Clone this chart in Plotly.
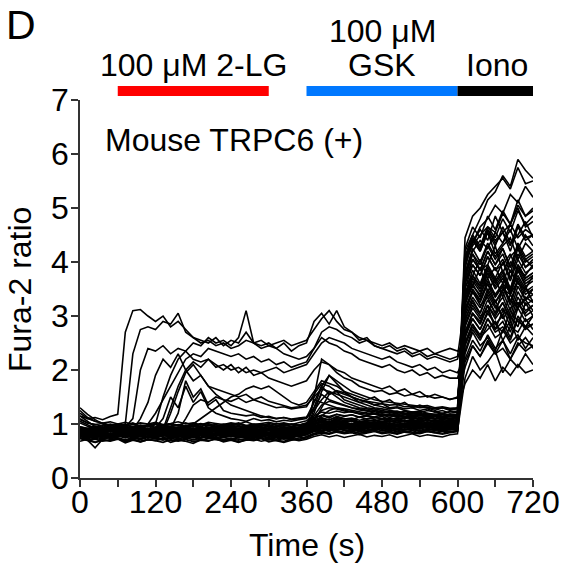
import plotly.graph_objects as go

# ---------------- data ----------------
TIME_S = list(range(0, 721, 12))  # sampling grid, 61 points

X_TICKS = [0, 60, 120, 180, 240, 300, 360, 420, 480, 540, 600, 660, 720]
X_TICK_LABELS = ["0", "", "120", "", "240", "", "360", "", "480", "", "600", "", "720"]
Y_TICKS = [0, 1, 2, 3, 4, 5, 6, 7]

PERIOD_NAMES = ["2-LG", "GSK", "Iono"]
PERIOD_START = [60, 360, 600]
PERIOD_END = [300, 600, 720]
PERIOD_COLORS = ["#ff0000", "#0078ff", "#000000"]

B1 = [0.82,0.79,0.81,0.77,0.80,0.83,0.78,0.80,0.76,0.81,
      0.79,0.82,0.78,0.80,0.77,0.81,0.79,0.83,0.80,0.78,
      0.81,0.79,0.82,0.80,0.84,0.81,0.79,0.82,0.80,0.83,
      0.84,0.89,0.92,0.90,0.94,0.91,0.93,0.90,0.92,0.95,
      0.91,0.93,0.90,0.94,0.92,0.91,0.95,0.92,0.90,0.93,
      0.95,2.60,3.05,2.85,3.20,2.75,3.10,3.00,2.80,3.25,3.00]
B2 = [0.74,0.70,0.72,0.68,0.71,0.73,0.69,0.72,0.67,0.71,
      0.70,0.73,0.69,0.72,0.68,0.71,0.70,0.74,0.71,0.69,
      0.72,0.70,0.73,0.71,0.75,0.72,0.70,0.73,0.71,0.74,
      0.76,0.82,0.85,0.83,0.87,0.84,0.86,0.83,0.85,0.88,
      0.84,0.86,0.83,0.87,0.85,0.84,0.88,0.85,0.83,0.86,
      0.88,1.85,2.25,2.00,2.15,2.35,1.95,2.20,2.05,2.30,2.10]
B3 = [1.15,1.05,0.95,0.92,0.88,0.91,0.93,0.89,0.92,0.90,
      0.94,0.90,0.92,0.88,0.93,0.91,0.89,0.92,0.95,0.90,
      0.92,0.89,0.93,0.91,0.88,0.92,0.90,0.94,0.91,0.93,
      0.95,1.00,1.03,1.01,1.05,1.02,1.00,1.04,1.01,1.03,
      1.00,1.05,1.02,1.00,1.04,1.01,1.03,1.00,1.02,1.05,
      1.06,3.40,3.55,3.90,3.45,3.70,3.35,3.85,3.60,3.50,3.75]
B4 = [0.80,0.76,0.79,0.82,0.75,0.78,0.80,0.77,0.81,0.74,
      0.78,0.80,0.76,0.79,0.77,0.82,0.78,0.75,0.79,0.81,
      0.77,0.80,0.78,0.76,0.81,0.79,0.82,0.78,0.80,0.77,
      0.82,0.90,0.94,0.92,0.96,0.93,0.97,0.94,0.95,0.92,
      0.96,0.94,0.97,0.93,0.95,0.98,0.94,0.96,0.93,0.97,
      0.98,3.70,4.15,3.85,3.95,4.30,3.80,4.10,4.25,3.90,4.05]
B5 = [0.88,0.85,0.89,0.84,0.87,0.86,0.90,0.84,0.88,0.86,
      0.85,0.89,0.86,0.88,0.84,0.87,0.90,0.86,0.88,0.85,
      0.89,0.86,0.87,0.90,0.85,0.88,0.86,0.89,0.87,0.90,
      0.92,0.97,1.00,0.98,1.02,0.99,1.01,0.97,1.00,1.03,
      0.99,1.02,0.98,1.01,0.99,1.03,1.00,0.98,1.02,1.00,
      1.03,4.10,4.35,4.60,4.40,4.85,4.55,4.70,5.00,4.65,4.75]
B6 = [1.25,1.12,1.05,1.02,0.98,1.00,0.96,0.99,0.95,0.97,
      0.94,0.98,0.96,0.93,0.97,0.95,0.99,0.94,0.96,0.98,
      0.95,0.97,0.94,0.98,0.96,0.99,0.95,0.97,0.96,0.98,
      1.00,1.06,1.10,1.08,1.12,1.09,1.11,1.07,1.10,1.13,
      1.09,1.11,1.08,1.12,1.10,1.09,1.13,1.10,1.08,1.11,
      1.12,4.20,4.50,4.80,5.15,5.30,5.60,5.40,5.90,5.70,5.55]
B7 = [0.77,0.73,0.76,0.72,0.78,0.74,0.71,0.75,0.73,0.77,
      0.74,0.72,0.76,0.73,0.75,0.71,0.74,0.77,0.73,0.75,
      0.72,0.76,0.74,0.73,0.77,0.75,0.72,0.76,0.74,0.78,
      0.80,0.86,0.89,0.87,0.91,0.88,0.90,0.86,0.89,0.92,
      0.88,0.90,0.87,0.91,0.89,0.88,0.92,0.89,0.87,0.90,
      0.92,3.10,3.45,3.20,3.35,3.05,3.50,3.30,3.15,3.55,3.25]
B8 = [0.80,0.70,0.56,0.72,0.78,0.82,0.84,0.81,0.85,0.83,
      0.80,0.84,0.82,0.86,0.81,0.83,0.85,0.80,0.84,0.82,
      0.86,0.83,0.81,0.85,0.83,0.80,0.84,0.86,0.82,0.85,
      0.87,0.94,0.97,0.95,0.99,0.96,0.98,0.94,0.97,1.00,
      0.96,0.98,0.95,0.99,0.97,0.96,1.00,0.97,0.95,0.98,
      1.00,2.30,2.70,2.45,2.60,2.35,2.75,2.50,2.65,2.40,2.60]
B9 = [1.05,0.98,0.92,0.90,0.87,0.89,0.86,0.90,0.88,0.91,
      0.87,0.89,0.92,0.88,0.90,0.86,0.89,0.91,0.87,0.90,
      0.88,0.92,0.89,0.87,0.91,0.88,0.90,0.87,0.92,0.89,
      0.93,1.00,1.05,1.03,1.07,1.04,1.06,1.02,1.05,1.08,
      1.04,1.06,1.03,1.07,1.05,1.04,1.08,1.05,1.03,1.06,
      1.08,3.55,3.75,4.05,3.70,3.90,3.60,4.00,3.85,3.75,3.95]
B10 = [0.78,0.82,0.79,0.84,0.80,0.77,0.81,0.83,0.79,0.82,
       0.80,0.78,0.83,0.79,0.81,0.84,0.80,0.78,0.82,0.79,
       0.83,0.80,0.78,0.82,0.80,0.84,0.81,0.79,0.83,0.81,
       0.85,0.91,0.94,0.92,0.96,0.93,0.95,0.91,0.94,0.97,
       0.93,0.95,0.92,0.96,0.94,0.93,0.97,0.94,0.92,0.95,
       0.97,3.90,4.40,4.20,4.55,4.15,4.35,4.60,4.25,4.50,4.30]
B11 = [0.95,0.91,0.94,0.90,0.93,0.92,0.95,0.91,0.94,0.92,
       0.90,0.94,0.91,0.93,0.95,0.91,0.93,0.90,0.94,0.92,
       0.95,0.92,0.94,0.91,0.93,0.96,0.92,0.94,0.91,0.95,
       0.98,1.10,1.25,1.30,1.28,1.24,1.22,1.20,1.18,1.20,
       1.16,1.18,1.15,1.17,1.14,1.16,1.13,1.15,1.12,1.14,
       1.15,2.65,2.95,2.75,3.05,2.85,2.70,3.10,2.90,2.80,3.00]
B12 = [0.79,0.75,0.78,0.74,0.76,0.80,0.75,0.77,0.73,0.78,
       0.76,0.79,0.75,0.77,0.74,0.78,0.76,0.80,0.75,0.77,
       0.79,0.76,0.74,0.78,0.76,0.79,0.75,0.78,0.76,0.80,
       0.82,0.89,0.92,0.90,0.94,0.91,0.93,0.89,0.92,0.95,
       0.91,0.93,0.90,0.94,0.92,0.91,0.95,0.92,0.90,0.93,
       0.95,3.25,3.55,3.40,3.70,3.35,3.60,3.45,3.75,3.50,3.40]
B13 = [1.10,1.02,0.99,0.96,1.00,0.97,0.99,0.95,0.98,0.96,
       1.00,0.97,0.95,0.99,0.96,0.98,1.01,0.97,0.99,0.96,
       0.98,1.00,0.96,0.99,0.97,1.01,0.98,0.96,1.00,0.98,
       1.02,1.10,1.16,1.14,1.18,1.15,1.17,1.13,1.16,1.19,
       1.15,1.17,1.14,1.18,1.16,1.15,1.19,1.16,1.14,1.17,
       1.18,4.10,4.35,4.65,4.80,5.05,4.90,5.25,5.10,5.40,5.20]
B14 = [0.68,0.72,0.66,0.70,0.69,0.73,0.67,0.71,0.68,0.72,
       0.69,0.66,0.71,0.68,0.72,0.67,0.70,0.68,0.73,0.69,
       0.71,0.67,0.70,0.72,0.68,0.71,0.69,0.66,0.70,0.72,
       0.74,0.80,0.83,0.81,0.85,0.82,0.84,0.80,0.83,0.86,
       0.82,0.84,0.81,0.85,0.83,0.82,0.86,0.83,0.81,0.84,
       0.86,2.15,2.45,2.25,2.55,2.30,2.40,2.20,2.50,2.35,2.45]
B15 = [0.87,0.83,0.86,0.82,0.88,0.84,0.86,0.83,0.87,0.85,
       0.82,0.86,0.84,0.88,0.83,0.85,0.87,0.84,0.86,0.83,
       0.87,0.84,0.86,0.85,0.88,0.83,0.86,0.84,0.87,0.85,
       0.88,0.96,1.00,0.98,1.02,0.99,1.01,0.97,1.00,1.03,
       0.99,1.01,0.98,1.02,1.00,0.99,1.03,1.00,0.98,1.01,
       1.03,2.85,3.20,3.00,3.10,3.30,2.95,3.15,3.25,3.05,3.20]
B16 = [0.92,0.88,0.91,0.87,0.90,0.93,0.88,0.91,0.89,0.92,
       0.88,0.91,0.93,0.89,0.90,0.87,0.92,0.89,0.91,0.88,
       0.92,0.90,0.88,0.93,0.89,0.91,0.88,0.92,0.90,0.93,
       0.96,1.15,1.35,1.42,1.38,1.33,1.30,1.26,1.24,1.20,
       1.18,1.16,1.19,1.14,1.15,1.12,1.14,1.11,1.13,1.10,
       1.12,3.60,3.95,3.75,4.10,3.85,3.95,4.15,3.80,4.05,3.90]
B17 = [0.84,0.80,0.83,0.79,0.82,0.85,0.80,0.83,0.81,0.84,
       0.80,0.83,0.85,0.81,0.82,0.79,0.84,0.81,0.83,0.80,
       0.84,0.82,0.80,0.85,0.81,0.83,0.80,0.84,0.82,0.85,
       0.86,0.93,0.97,0.95,0.99,0.96,0.98,0.94,0.97,1.00,
       0.96,0.98,0.95,0.99,0.97,0.96,1.00,0.97,0.95,0.98,
       1.00,4.00,4.30,4.50,4.65,4.55,4.90,4.70,5.05,4.85,4.95]
B18 = [0.90,0.86,0.89,0.85,0.88,0.91,0.86,0.89,0.87,0.90,
       0.86,0.89,0.91,0.87,0.88,0.85,0.90,0.87,0.89,0.86,
       0.90,0.88,0.86,0.91,0.87,0.89,0.86,0.90,0.88,0.91,
       0.95,1.05,1.30,1.55,1.62,1.58,1.50,1.45,1.40,1.35,
       1.32,1.28,1.30,1.25,1.22,1.24,1.20,1.18,1.20,1.17,
       1.18,3.15,3.45,3.30,3.60,3.25,3.50,3.40,3.65,3.30,3.50]
B19 = [0.82,0.78,0.81,0.77,0.80,0.83,0.78,0.81,0.79,0.82,
       0.78,0.81,0.83,0.79,0.80,0.77,0.82,0.79,0.81,0.78,
       0.82,0.80,0.78,0.83,0.79,0.81,0.78,0.82,0.80,0.83,
       0.86,1.00,1.15,1.25,1.30,1.26,1.22,1.18,1.15,1.12,
       1.10,1.08,1.11,1.06,1.07,1.05,1.08,1.04,1.06,1.03,
       1.05,2.45,2.80,2.60,2.75,2.90,2.55,2.80,2.70,2.95,2.75]
B20 = [1.20,1.10,1.05,1.02,1.04,1.00,1.03,0.99,1.02,1.00,
       1.03,0.99,1.01,1.04,1.00,1.02,0.98,1.03,1.01,0.99,
       1.02,1.00,1.04,0.99,1.01,1.03,1.00,1.02,0.99,1.03,
       1.06,1.15,1.22,1.20,1.24,1.21,1.23,1.19,1.22,1.25,
       1.21,1.23,1.20,1.24,1.22,1.21,1.25,1.22,1.20,1.23,
       1.24,3.80,4.25,4.00,4.35,4.10,4.30,4.45,4.05,4.35,4.20]
B21 = [0.78,0.74,0.77,0.80,0.73,0.76,0.79,0.75,0.72,0.77,
       0.80,0.75,0.73,0.78,0.76,0.74,0.79,0.77,0.72,0.76,
       0.79,0.74,0.77,0.75,0.80,0.73,0.78,0.76,0.74,0.79,
       0.82,0.88,0.85,0.91,0.87,0.84,0.90,0.88,0.86,0.92,
       0.87,0.90,0.85,0.89,0.93,0.86,0.88,0.91,0.87,0.90,
       0.92,3.20,3.60,3.35,3.80,3.50,3.70,3.40,3.85,3.55,3.65]
B22 = [0.86,0.90,0.83,0.87,0.81,0.85,0.88,0.82,0.86,0.84,
       0.81,0.87,0.85,0.83,0.89,0.84,0.82,0.86,0.88,0.83,
       0.85,0.87,0.82,0.86,0.84,0.88,0.83,0.85,0.87,0.84,
       0.88,0.95,0.99,0.94,1.01,0.97,0.95,1.00,0.96,0.98,
       1.02,0.95,0.99,0.97,1.01,0.96,0.99,0.94,1.00,0.97,
       1.00,2.90,3.30,3.05,3.45,3.20,3.00,3.40,3.15,3.35,3.25]
B23 = [1.02,0.96,0.93,0.97,0.91,0.94,0.96,0.92,0.95,0.90,
       0.94,0.97,0.92,0.95,0.93,0.96,0.91,0.94,0.92,0.97,
       0.93,0.95,0.91,0.96,0.94,0.92,0.97,0.93,0.95,0.92,
       0.97,1.05,1.08,1.04,1.10,1.06,1.09,1.03,1.07,1.05,
       1.09,1.04,1.08,1.06,1.03,1.08,1.05,1.07,1.04,1.06,
       1.08,3.90,4.40,4.20,4.55,4.30,4.65,4.35,4.50,4.75,4.45]
B24 = [0.75,0.71,0.74,0.70,0.76,0.72,0.69,0.74,0.71,0.75,
       0.72,0.70,0.74,0.71,0.73,0.76,0.70,0.73,0.75,0.71,
       0.74,0.72,0.70,0.75,0.73,0.71,0.76,0.72,0.74,0.70,
       0.77,0.83,0.86,0.82,0.88,0.84,0.87,0.83,0.85,0.89,
       0.84,0.87,0.82,0.86,0.88,0.83,0.86,0.84,0.87,0.85,
       0.87,2.60,2.95,2.75,3.10,2.85,3.00,2.70,3.15,2.90,3.00]
B25 = [0.89,0.92,0.86,0.90,0.85,0.88,0.91,0.86,0.89,0.87,
       0.84,0.90,0.88,0.86,0.91,0.87,0.85,0.89,0.92,0.86,
       0.88,0.90,0.85,0.89,0.87,0.91,0.86,0.88,0.90,0.87,
       0.91,0.99,1.03,0.98,1.05,1.00,0.98,1.04,0.99,1.02,
       1.05,0.99,1.03,1.00,1.04,0.98,1.02,0.99,1.03,1.00,
       1.02,3.60,4.05,3.85,4.20,3.95,4.25,3.90,4.30,4.05,4.15]
B26 = [0.82,0.79,0.84,0.78,0.81,0.83,0.77,0.80,0.84,0.79,
       0.82,0.78,0.81,0.85,0.79,0.82,0.80,0.77,0.83,0.81,
       0.78,0.82,0.80,0.84,0.79,0.81,0.83,0.78,0.82,0.80,
       0.84,0.91,0.95,0.90,0.96,0.93,0.91,0.97,0.92,0.95,
       0.98,0.92,0.95,0.93,0.97,0.91,0.95,0.93,0.96,0.94,
       0.96,3.40,3.85,3.60,3.95,3.70,4.00,3.65,4.05,3.80,3.90]
B27 = [1.30,1.18,1.08,1.00,0.97,0.95,0.98,0.94,0.97,0.95,
       0.99,0.94,0.96,0.98,0.93,0.97,0.95,0.99,0.94,0.96,
       0.98,0.95,0.97,0.93,0.98,0.96,0.94,0.99,0.95,0.97,
       1.00,1.08,1.12,1.07,1.14,1.10,1.08,1.13,1.09,1.11,
       1.14,1.08,1.12,1.10,1.13,1.07,1.11,1.09,1.12,1.10,
       1.12,3.00,3.35,3.15,3.50,3.25,3.45,3.10,3.55,3.30,3.40]
B28 = [0.80,0.76,0.79,0.75,0.81,0.77,0.74,0.79,0.82,0.76,
       0.78,0.81,0.75,0.79,0.77,0.80,0.74,0.78,0.81,0.76,
       0.79,0.77,0.82,0.75,0.78,0.80,0.76,0.79,0.77,0.81,
       0.83,0.90,0.93,0.89,0.95,0.91,0.94,0.88,0.92,0.96,
       0.90,0.94,0.91,0.95,0.89,0.93,0.96,0.90,0.94,0.92,
       0.94,3.80,4.20,4.40,4.25,4.55,4.35,4.70,4.45,4.60,4.50]
B29 = [0.91,0.87,0.90,0.94,0.88,0.86,0.91,0.89,0.93,0.87,
       0.90,0.92,0.86,0.89,0.93,0.88,0.91,0.87,0.90,0.94,
       0.88,0.91,0.89,0.86,0.92,0.90,0.88,0.93,0.89,0.91,
       0.94,1.02,1.06,1.01,1.08,1.03,1.06,1.00,1.05,1.07,
       1.02,1.06,1.03,1.07,1.01,1.05,1.08,1.02,1.06,1.04,
       1.06,3.10,3.50,3.30,3.65,3.40,3.60,3.25,3.70,3.45,3.55]
B30 = [0.73,0.69,0.66,0.71,0.68,0.72,0.65,0.70,0.67,0.71,
       0.69,0.73,0.66,0.70,0.68,0.64,0.71,0.69,0.72,0.67,
       0.70,0.66,0.71,0.69,0.73,0.67,0.70,0.68,0.72,0.69,
       0.72,0.77,0.80,0.76,0.79,0.75,0.78,0.81,0.76,0.79,
       0.77,0.80,0.75,0.79,0.82,0.77,0.80,0.78,0.76,0.80,
       0.82,2.50,2.85,2.65,2.95,2.75,2.90,2.60,3.00,2.80,2.85]
B31 = [1.08,1.02,0.99,1.01,0.97,1.00,0.98,1.02,0.96,0.99,
       1.01,0.97,1.00,0.98,1.02,0.97,0.99,1.01,0.96,1.00,
       0.98,1.02,0.97,1.00,0.99,0.96,1.01,0.98,1.00,0.97,
       1.02,1.12,1.16,1.11,1.18,1.14,1.17,1.12,1.15,1.13,
       1.17,1.12,1.16,1.14,1.11,1.16,1.13,1.15,1.12,1.14,
       1.16,4.10,4.50,4.30,4.65,4.45,4.80,4.55,4.95,4.70,4.85]
B32 = [0.85,0.81,0.84,0.88,0.80,0.83,0.86,0.82,0.79,0.84,
       0.87,0.82,0.80,0.85,0.83,0.81,0.86,0.84,0.79,0.83,
       0.86,0.81,0.84,0.82,0.87,0.80,0.85,0.83,0.81,0.86,
       0.88,0.96,1.00,0.95,1.02,0.98,1.01,0.96,0.99,0.97,
       1.01,0.96,1.00,0.98,1.02,0.97,0.99,1.01,0.96,1.00,
       1.01,2.80,3.15,2.95,3.30,3.05,3.25,2.90,3.35,3.10,3.20]
B33 = [0.93,0.89,0.92,0.88,0.94,0.90,0.87,0.92,0.95,0.89,
       0.91,0.94,0.88,0.92,0.90,0.93,0.87,0.91,0.94,0.89,
       0.92,0.90,0.95,0.88,0.91,0.93,0.89,0.92,0.90,0.94,
       0.96,1.04,1.08,1.03,1.10,1.06,1.09,1.04,1.07,1.05,
       1.09,1.04,1.07,1.05,1.09,1.03,1.07,1.05,1.08,1.06,
       1.07,3.50,3.95,3.75,4.10,3.85,4.05,3.70,4.15,3.90,4.00]
B34 = [0.78,0.81,0.75,0.79,0.73,0.77,0.80,0.74,0.78,0.76,
       0.73,0.79,0.77,0.75,0.80,0.76,0.74,0.78,0.81,0.75,
       0.77,0.79,0.74,0.78,0.76,0.80,0.75,0.77,0.79,0.76,
       0.80,0.87,0.91,0.86,0.93,0.89,0.87,0.92,0.88,0.90,
       0.93,0.87,0.91,0.89,0.92,0.86,0.90,0.88,0.91,0.89,
       0.90,3.30,3.70,3.50,3.85,3.60,3.80,3.45,3.90,3.65,3.75]
B35 = [0.88,0.84,0.87,0.83,0.89,0.85,0.82,0.87,0.90,0.84,
       0.86,0.89,0.83,0.87,0.85,0.88,0.82,0.86,0.89,0.84,
       0.87,0.85,0.90,0.83,0.86,0.88,0.84,0.87,0.85,0.89,
       0.92,1.00,1.04,0.99,1.06,1.02,1.05,1.00,1.03,1.01,
       1.05,1.00,1.03,1.01,1.05,0.99,1.03,1.01,1.04,1.02,
       1.03,2.70,3.05,2.85,3.20,2.95,3.15,2.80,3.25,3.00,3.10]
B36 = [0.83,0.79,0.82,0.86,0.78,0.81,0.84,0.80,0.77,0.82,
       0.85,0.80,0.78,0.83,0.81,0.79,0.84,0.82,0.77,0.81,
       0.84,0.79,0.82,0.80,0.85,0.78,0.83,0.81,0.79,0.84,
       0.86,0.93,0.97,0.92,0.99,0.95,0.98,0.93,0.96,0.94,
       0.98,0.93,0.97,0.95,0.99,0.94,0.96,0.98,0.93,0.97,
       0.98,4.00,4.45,4.25,4.60,4.35,4.55,4.20,4.65,4.40,4.50]

R1 = [1.15,1.10,1.12,1.08,1.14,1.18,2.70,3.10,3.12,3.00,
      2.90,3.00,2.80,2.90,2.75,2.60,2.55,2.50,2.60,2.45,
      2.55,2.50,2.70,2.50,2.55,2.45,2.50,2.55,2.45,2.50,
      2.55,2.75,2.95,3.10,2.90,2.75,2.70,2.60,2.55,2.50,
      2.45,2.50,2.40,2.45,2.40,2.35,2.40,2.30,2.35,2.40,
      2.35,2.50,2.85,2.60,2.95,2.70,2.80,2.55,2.95,2.75,2.85]
R2 = [0.95,0.92,0.96,0.93,0.97,0.95,1.00,2.30,2.75,2.80,
      2.75,2.90,2.85,3.05,2.70,2.60,2.50,2.55,2.45,2.50,
      2.40,2.45,2.55,2.50,2.40,2.45,2.40,2.50,2.35,2.45,
      2.50,2.90,3.05,2.85,3.10,2.80,2.70,2.55,2.60,2.45,
      2.40,2.35,2.30,2.35,2.25,2.30,2.20,2.25,2.20,2.15,
      2.20,2.70,3.05,2.90,3.20,3.00,3.25,2.95,3.15,3.30,3.10]
R3 = [0.90,0.88,0.92,0.89,0.93,0.91,0.94,1.10,2.00,2.40,
      2.35,2.45,2.30,2.40,2.35,2.20,2.15,2.20,2.05,2.10,
      2.00,2.05,1.95,2.00,1.95,2.00,2.05,1.95,2.00,2.05,
      2.10,2.30,2.50,2.60,2.55,2.50,2.40,2.35,2.30,2.25,
      2.20,2.25,2.15,2.10,2.05,2.10,2.00,2.05,1.95,2.00,
      1.95,2.20,2.55,2.35,2.65,2.40,2.55,2.30,2.60,2.50,2.45]
R4 = [0.88,0.85,0.90,0.86,0.89,0.87,0.91,0.88,0.86,0.90,
      1.00,1.50,1.90,2.20,2.35,2.50,2.45,2.60,2.50,2.55,
      2.45,2.60,3.10,2.50,2.45,2.50,2.40,2.30,2.25,2.20,
      2.25,2.40,2.60,2.50,2.45,2.35,2.30,2.20,2.15,2.10,
      2.05,2.10,2.00,1.95,2.00,1.90,1.95,1.85,1.90,1.85,
      1.85,2.35,2.75,2.55,2.85,2.60,2.70,2.90,2.55,2.80,2.65]
R5 = [0.85,0.82,0.86,0.83,0.87,0.84,0.86,0.83,0.85,0.82,
      0.86,0.90,1.30,1.70,2.00,2.15,2.05,2.20,2.10,2.00,
      2.10,1.95,2.05,1.90,1.95,1.85,1.80,1.75,1.70,1.75,
      1.80,2.00,2.15,2.10,2.00,1.95,1.85,1.80,1.75,1.70,
      1.65,1.70,1.60,1.65,1.55,1.60,1.50,1.55,1.50,1.45,
      1.50,2.05,2.45,2.25,2.50,2.30,2.55,2.20,2.45,2.60,2.40]
R6 = [0.90,0.87,0.91,0.88,0.92,0.89,0.91,0.88,0.90,0.87,
      0.91,0.89,0.92,0.90,0.88,1.00,1.10,1.20,1.30,1.40,
      1.50,1.55,1.65,1.70,1.65,1.70,1.60,1.50,1.40,1.35,
      1.40,1.60,1.80,1.75,1.70,1.60,1.55,1.50,1.45,1.50,
      1.40,1.45,1.35,1.40,1.30,1.35,1.30,1.25,1.30,1.25,
      1.30,3.40,3.75,3.55,3.90,3.65,3.85,3.50,3.95,3.70,3.80]
R7 = [0.88,0.85,0.89,0.86,0.90,0.87,0.89,0.86,0.88,0.85,
      0.89,0.87,0.90,0.88,1.10,1.35,1.45,1.40,1.50,1.45,
      1.42,1.48,1.40,1.45,1.50,1.42,1.38,1.35,1.30,1.32,
      1.35,1.50,1.65,1.60,1.55,1.50,1.45,1.40,1.42,1.35,
      1.38,1.30,1.32,1.28,1.30,1.25,1.28,1.22,1.25,1.20,
      1.22,4.00,4.45,4.25,4.60,4.40,4.55,4.30,4.70,4.45,4.50]
R8 = [0.92,0.89,0.93,0.90,0.94,0.91,0.93,0.90,0.92,0.89,
      0.93,1.10,1.50,1.30,1.70,1.40,1.60,1.30,1.20,1.15,
      1.10,1.08,1.05,1.10,1.06,1.08,1.04,1.07,1.05,1.08,
      1.10,1.30,1.55,1.45,1.40,1.35,1.30,1.28,1.25,1.22,
      1.20,1.22,1.18,1.20,1.16,1.18,1.15,1.17,1.14,1.16,
      1.15,2.95,3.25,3.05,3.40,3.15,3.35,3.00,3.45,3.20,3.30]
R9 = [0.87,0.84,0.88,0.85,0.89,0.86,0.88,0.85,0.87,0.84,
      0.88,0.86,1.20,1.60,1.95,2.10,1.90,1.70,1.55,1.45,
      1.35,1.30,1.25,1.20,1.15,1.12,1.10,1.12,1.08,1.10,
      1.12,1.40,1.70,1.90,1.75,1.60,1.50,1.40,1.35,1.30,
      1.28,1.25,1.22,1.20,1.22,1.18,1.20,1.16,1.18,1.15,
      1.16,3.75,4.15,3.95,4.30,4.05,4.25,3.90,4.35,4.10,4.20]
R10 = [0.91,0.88,0.92,0.89,0.93,0.90,0.92,0.89,1.10,1.40,
       1.90,2.20,2.05,2.30,2.00,1.80,1.90,1.70,1.65,1.60,
       1.55,1.50,1.55,1.45,1.40,1.35,1.30,1.32,1.28,1.30,
       1.32,1.55,1.75,1.70,1.60,1.55,1.50,1.45,1.42,1.40,
       1.38,1.35,1.36,1.32,1.33,1.30,1.31,1.28,1.30,1.27,
       1.28,1.75,2.00,1.85,2.10,1.80,2.05,1.90,2.10,1.95,2.00]
R11 = [0.86,0.83,0.87,0.84,0.88,0.85,0.87,0.84,0.86,1.00,
       1.20,1.45,1.70,1.95,2.20,2.30,2.25,2.40,2.35,2.30,
       2.25,2.30,2.20,2.25,2.15,2.20,2.10,2.15,2.05,2.10,
       2.15,2.40,2.70,2.80,2.75,2.65,2.60,2.50,2.55,2.45,
       2.40,2.45,2.35,2.40,2.30,2.35,2.25,2.30,2.25,2.20,
       2.25,3.25,3.65,3.45,3.80,3.55,3.75,3.40,3.85,3.60,3.70]
R12 = [0.89,0.86,0.90,0.87,0.91,0.88,0.90,0.87,0.89,0.86,
       0.90,0.88,0.91,1.20,1.80,1.50,1.65,1.35,1.45,1.25,
       1.20,1.18,1.15,1.17,1.12,1.14,1.10,1.12,1.09,1.11,
       1.13,1.25,1.45,1.60,1.50,1.40,1.35,1.30,1.28,1.25,
       1.22,1.20,1.22,1.18,1.20,1.16,1.18,1.15,1.17,1.14,
       1.15,4.25,4.65,4.45,4.85,4.60,4.95,4.70,5.15,4.85,5.00]

G1 = [0.84,0.81,0.85,0.82,0.86,0.83,0.85,0.82,0.84,0.81,
      0.85,0.83,0.86,0.82,0.84,0.81,0.85,0.83,0.86,0.82,
      0.84,0.81,0.85,0.83,0.86,0.82,0.84,0.81,0.85,0.83,
      0.88,1.50,2.20,2.10,1.95,1.85,1.80,1.70,1.65,1.60,
      1.62,1.55,1.58,1.52,1.55,1.50,1.52,1.48,1.50,1.46,
      1.48,3.05,3.45,3.25,3.60,3.35,3.55,3.20,3.65,3.40,3.50]
G2 = [0.93,0.90,0.94,0.91,0.95,0.92,0.94,0.91,0.93,0.90,
      0.94,0.92,0.95,0.91,0.93,0.90,0.94,0.92,0.95,0.91,
      0.93,0.90,0.94,0.92,0.95,0.91,0.93,0.90,0.94,0.92,
      0.96,1.20,1.60,1.90,1.80,1.70,1.60,1.55,1.50,1.45,
      1.42,1.40,1.38,1.36,1.35,1.33,1.34,1.30,1.32,1.29,
      1.30,3.65,4.05,3.85,4.20,3.95,4.15,3.80,4.25,4.00,4.10]
G3 = [0.79,0.76,0.80,0.77,0.81,0.78,0.80,0.77,0.79,0.76,
      0.80,0.78,0.81,0.77,0.79,0.76,0.80,0.78,0.81,0.77,
      0.79,0.76,0.80,0.78,0.81,0.77,0.79,0.76,0.80,0.78,
      0.84,1.30,1.70,1.55,1.60,1.45,1.40,1.35,1.30,1.28,
      1.25,1.22,1.24,1.20,1.18,1.20,1.16,1.18,1.14,1.15,
      1.16,3.35,3.75,3.55,3.90,3.65,3.85,3.50,3.95,3.70,3.80]
G4 = [0.86,0.83,0.87,0.84,0.88,0.85,0.87,0.84,0.86,0.83,
      0.87,0.85,0.88,0.84,0.86,0.83,0.87,0.85,0.88,0.84,
      0.86,0.83,0.87,0.85,0.88,0.84,0.86,0.83,0.87,0.85,
      0.90,1.45,1.40,1.35,1.30,1.28,1.25,1.22,1.20,1.18,
      1.16,1.15,1.14,1.12,1.13,1.10,1.12,1.09,1.11,1.08,
      1.10,4.45,4.85,5.00,5.25,5.40,5.55,5.35,5.75,5.45,5.50]

CELLS = {
    "B1": B1, "B2": B2, "B3": B3, "B4": B4, "B5": B5, "B6": B6, "B7": B7,
    "B8": B8, "B9": B9, "B10": B10, "B11": B11, "B12": B12, "B13": B13,
    "B14": B14, "B15": B15, "B16": B16, "B17": B17, "B18": B18, "B19": B19,
    "B20": B20, "B21": B21, "B22": B22, "B23": B23, "B24": B24, "B25": B25,
    "B26": B26, "B27": B27, "B28": B28, "B29": B29, "B30": B30, "B31": B31,
    "B32": B32, "B33": B33, "B34": B34, "B35": B35, "B36": B36,
    "R1": R1, "R2": R2, "R3": R3, "R4": R4, "R5": R5, "R6": R6,
    "R7": R7, "R8": R8, "R9": R9, "R10": R10, "R11": R11, "R12": R12,
    "G1": G1, "G2": G2, "G3": G3, "G4": G4,
}

bad = [k for k, v in CELLS.items() if len(v) != len(TIME_S)]
if bad:
    raise ValueError("length mismatch: " + ", ".join(f"{k}={len(CELLS[k])}" for k in bad))

# ---------------- figure ----------------
FONT = "Arial, 'Liberation Sans', Helvetica, sans-serif"
AXIS_COLOR = "#333333"
FS = 32

fig = go.Figure()
for name, vals in CELLS.items():
    fig.add_trace(go.Scatter(
        x=TIME_S, y=vals, mode="lines", name=name,
        line=dict(color="black", width=1.6),
        showlegend=False, hoverinfo="skip",
    ))

# treatment bars above the plot
for s, e, c in zip(PERIOD_START, PERIOD_END, PERIOD_COLORS):
    fig.add_shape(type="rect", xref="x", yref="paper",
                  x0=s, x1=e, y0=1.0106, y1=1.037,
                  fillcolor=c, line=dict(width=0), layer="above")

annots = [
    dict(text="100 μM 2-LG", x=180, y=1.093),
    dict(text="100 μM", x=480, y=1.182),
    dict(text="GSK", x=480, y=1.093),
    dict(text="Iono", x=663, y=1.093),
]
for a in annots:
    fig.add_annotation(text=a["text"], x=a["x"], y=a["y"], xref="x", yref="paper",
                       showarrow=False, xanchor="center", yanchor="middle",
                       font=dict(size=FS, color="black", family=FONT))

fig.add_annotation(text="Mouse TRPC6 (+)", x=36, y=6.26, xref="x", yref="y",
                   showarrow=False, xanchor="left", yanchor="middle",
                   font=dict(size=FS, color="black", family=FONT))
fig.add_annotation(text="D", x=-0.168, y=1.2646, xref="paper", yref="paper",
                   showarrow=False, xanchor="left", yanchor="top",
                   font=dict(size=41, color="black", family=FONT))
# axis titles
fig.add_annotation(text="Time (s)", x=0.5, y=-0.177, xref="paper", yref="paper",
                   showarrow=False, xanchor="center", yanchor="middle",
                   font=dict(size=FS, color="black", family=FONT))
fig.add_annotation(text="Fura-2 ratio", x=-0.1325, y=0.5, xref="paper", yref="paper",
                   showarrow=False, xanchor="center", yanchor="middle", textangle=-90,
                   font=dict(size=FS, color="black", family=FONT))

fig.update_layout(
    width=561, height=565,
    margin=dict(l=80, r=28, t=100, b=87),
    plot_bgcolor="white", paper_bgcolor="white",
    font=dict(family=FONT, size=FS, color="black"),
    showlegend=False,
)
fig.update_xaxes(
    range=[0, 720], tickmode="array", tickvals=X_TICKS, ticktext=X_TICK_LABELS,
    ticks="outside", ticklen=7, tickwidth=1.5, tickcolor=AXIS_COLOR,
    showline=True, linecolor=AXIS_COLOR, linewidth=1.5,
    showgrid=False, zeroline=False, automargin=False,
    tickfont=dict(size=FS, color="black"), ticklabelstandoff=-12,
)
fig.update_yaxes(
    range=[0, 7], tickmode="array", tickvals=Y_TICKS,
    ticks="outside", ticklen=7, tickwidth=1.5, tickcolor=AXIS_COLOR,
    showline=True, linecolor=AXIS_COLOR, linewidth=1.5,
    showgrid=False, zeroline=False, automargin=False,
    tickfont=dict(size=FS, color="black"), ticklabelstandoff=-4,
)

fig.write_html("out.html", config={"displayModeBar": False},
               post_script="document.body.style.margin='0px';")
